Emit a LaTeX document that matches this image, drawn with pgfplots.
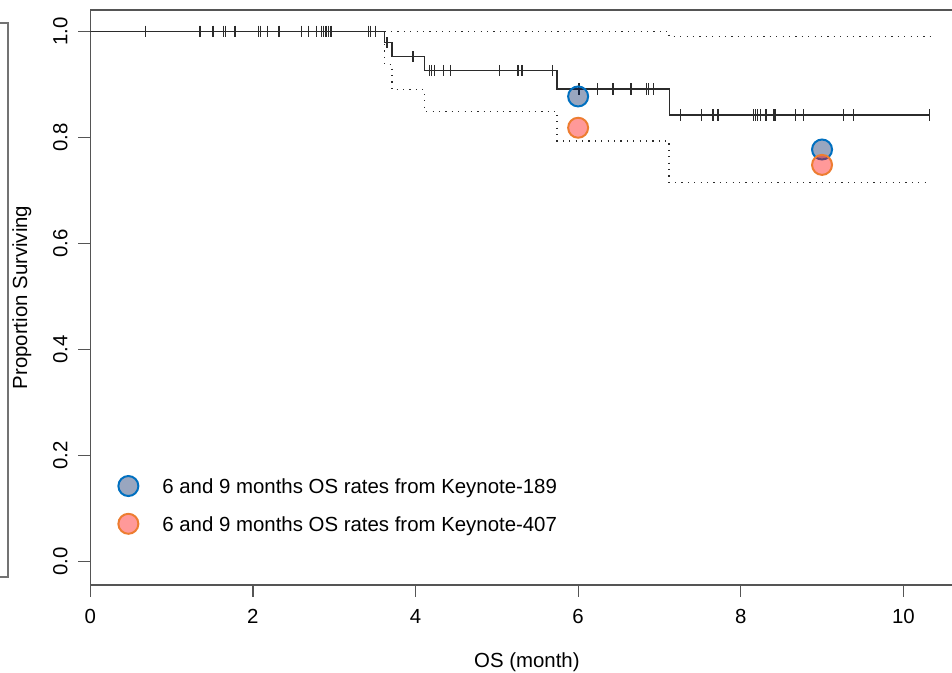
\documentclass[border=0pt]{standalone}
\usepackage{pgfplots}
\pgfplotsset{compat=1.18}
\usepackage{fontspec}
\setmainfont{Liberation Sans}
\definecolor{kmline}{HTML}{2B2B2B}
\definecolor{axisgray}{HTML}{555555}
\definecolor{edgeA}{HTML}{0070C0}
\definecolor{fillA}{HTML}{002060}
\definecolor{edgeB}{HTML}{ED7D31}
\definecolor{fillB}{HTML}{FF0000}
\begin{document}
\begin{tikzpicture}
\useasboundingbox (-45.15pt,-44pt) rectangle (430.85pt,292.5pt);
\begin{axis}[
  at={(0pt,0pt)}, anchor=south west,
  scale only axis, width=436.6pt, height=287.5pt,
  xmin=0, xmax=10.74, ymin=-0.044, ymax=1.04,
  xtick={0,2,4,6,8,10}, ytick={0,0.2,0.4,0.6,0.8,1.0},
  tick pos=left, tick align=outside, major tick length=6pt,
  axis line style={axisgray, line width=0.6pt},
  every tick/.style={axisgray, line width=0.6pt},
  /pgf/number format/assume math mode=true,
  tick label style={font=\fontsize{10.2}{12}\selectfont},
  xticklabel style={anchor=base, yshift=-13.1pt},
  yticklabel style={xshift=-5.5pt, rotate=90, anchor=base, /pgf/number format/.cd, fixed, fixed zerofill, precision=1},
  xlabel={OS (month)},
  ylabel={Proportion Surviving},
  label style={font=\fontsize{10.2}{12}\selectfont},
  xlabel style={at={(axis description cs:0.5,-0.1339)}, anchor=center},
  ylabel style={at={(axis description cs:-0.0785,0.5)}, anchor=center},
  legend style={draw=none, fill=none, at={(axis description cs:0.0317,0.1358)}, anchor=west,
    inner sep=0pt, row sep=6pt, column sep=10pt, font=\fontsize{10.2}{12}\selectfont},
  legend cell align=left,
  legend image code/.code={\draw[#1] plot coordinates {(0pt,1pt)};},
]
% Kaplan-Meier estimate
\addplot[forget plot, kmline, line width=0.6pt, const plot] coordinates {
  (0,1) (3.62,0.978) (3.71,0.952) (4.11,0.926) (5.74,0.891) (7.12,0.842) (10.33,0.842)};
% upper confidence limit
\addplot[forget plot, kmline, line width=0.7pt, dash pattern=on 0.6pt off 2.6pt, const plot] coordinates {
  (3.62,1) (7.12,0.990) (10.33,0.990)};
% lower confidence limit
\addplot[forget plot, kmline, line width=0.7pt, dash pattern=on 0.6pt off 2.6pt, const plot] coordinates {
  (3.62,1) (3.62,0.937) (3.71,0.890) (4.11,0.849) (5.74,0.793) (7.12,0.715) (10.33,0.715)};
% censoring marks
\addplot[forget plot, only marks, mark=|, mark size=2.8pt, mark options={kmline, line width=0.6pt}] coordinates {
  (0.68,1) (1.34,1) (1.36,1) (1.51,1) (1.64,1) (1.66,1) (1.78,1) (2.07,1) (2.09,1) (2.18,1) (2.32,1)
  (2.60,1) (2.68,1) (2.78,1) (2.84,1) (2.87,1) (2.90,1) (2.93,1) (2.96,1) (3.42,1) (3.45,1) (3.51,1)
  (3.65,0.978) (3.97,0.952)
  (4.17,0.926) (4.20,0.926) (4.23,0.926) (4.34,0.926) (4.43,0.926) (5.03,0.926) (5.26,0.926) (5.31,0.926) (5.68,0.926)
  (6.01,0.891) (6.24,0.891) (6.43,0.891) (6.65,0.891) (6.84,0.891) (6.87,0.891) (6.93,0.891)
  (7.26,0.842) (7.52,0.842) (7.66,0.842) (7.72,0.842) (8.16,0.842) (8.18,0.842) (8.21,0.842) (8.24,0.842)
  (8.31,0.842) (8.41,0.842) (8.43,0.842) (8.67,0.842) (8.77,0.842) (9.26,0.842) (9.39,0.842) (10.32,0.842)};
% trial OS rates
\addplot[only marks, mark=*, mark size=5pt, mark options={draw=edgeA, fill=fillA, fill opacity=0.4, line width=1pt}] coordinates {
  (6,0.877) (9,0.777)};
\addlegendentry{6 and 9 months OS rates from Keynote-189}
\addplot[only marks, mark=*, mark size=5pt, mark options={draw=edgeB, fill=fillB, fill opacity=0.4, line width=1pt}] coordinates {
  (6,0.818) (9,0.748)};
\addlegendentry{6 and 9 months OS rates from Keynote-407}
\end{axis}
\draw[black!55, line width=0.6pt] (-46pt,281pt) -- (-41.15pt,281pt) -- (-41.15pt,4pt) -- (-46pt,4pt);
\end{tikzpicture}
\end{document}
